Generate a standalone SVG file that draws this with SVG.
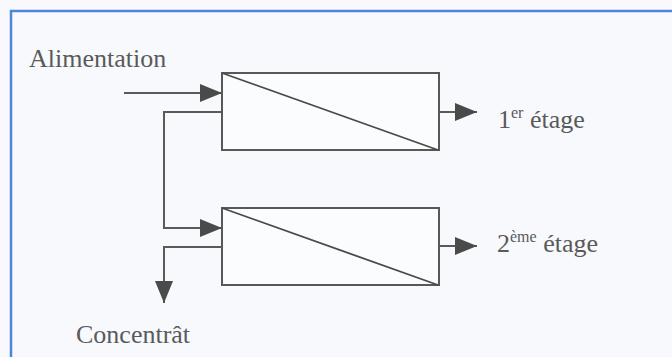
<svg xmlns="http://www.w3.org/2000/svg" width="672" height="357" viewBox="0 0 672 357">
  <defs>
    <style>
      .bg { fill: #f7f9fd; }
      .frame { stroke: #4f84dc; stroke-width: 2.5; fill: none; }
      .box { fill: #fbfcfe; stroke: #585858; stroke-width: 2; }
      .diag { stroke: #4a4a4a; stroke-width: 1.8; fill: none; }
      .flow { stroke: #5a5a5a; stroke-width: 2; fill: none; }
      .lbl { font-family: "Liberation Serif", "Times New Roman", serif; font-size: 26px; fill: #5a5a5a; }
      .sup { font-size: 16px; }
    </style>
    <marker id="arrow" markerUnits="userSpaceOnUse" markerWidth="22" markerHeight="18" viewBox="0 0 22 18" refX="22" refY="9" orient="auto">
      <path d="M0,0 L22,9 L0,18 Z" fill="#4a4a4a"/>
    </marker>
  </defs>

  <!-- page background and frame -->
  <rect class="bg" x="0" y="0" width="672" height="357"/>
  <polyline class="frame" points="11,357 11,11 672,11"/>

  <!-- stage 1 module -->
  <g id="stage1">
    <rect class="box" x="222" y="73" width="217" height="77"/>
    <line class="diag" x1="222" y1="73" x2="438" y2="150"/>
  </g>

  <!-- stage 2 module -->
  <g id="stage2">
    <rect class="box" x="222" y="208" width="217" height="77"/>
    <line class="diag" x1="222" y1="208" x2="438" y2="285"/>
  </g>

  <!-- flows -->
  <g id="connectors">
    <line class="flow" x1="124" y1="93" x2="222" y2="93" marker-end="url(#arrow)"/>
    <line class="flow" x1="439" y1="112" x2="477" y2="112" marker-end="url(#arrow)"/>
    <polyline class="flow" points="222,112 164,112 164,228 222,228" marker-end="url(#arrow)"/>
    <line class="flow" x1="439" y1="246" x2="477" y2="246" marker-end="url(#arrow)"/>
    <polyline class="flow" points="222,247 164,247 164,303" marker-end="url(#arrow)"/>
  </g>

  <!-- labels -->
  <g id="labels">
    <text class="lbl" x="29" y="67">Alimentation</text>
    <text class="lbl" x="498" y="128">1<tspan class="sup" dy="-10">er</tspan><tspan dy="10"> étage</tspan></text>
    <text class="lbl" x="497" y="252">2<tspan class="sup" dy="-10">ème</tspan><tspan dy="10"> étage</tspan></text>
    <text class="lbl" x="76" y="343">Concentrât</text>
  </g>
</svg>
